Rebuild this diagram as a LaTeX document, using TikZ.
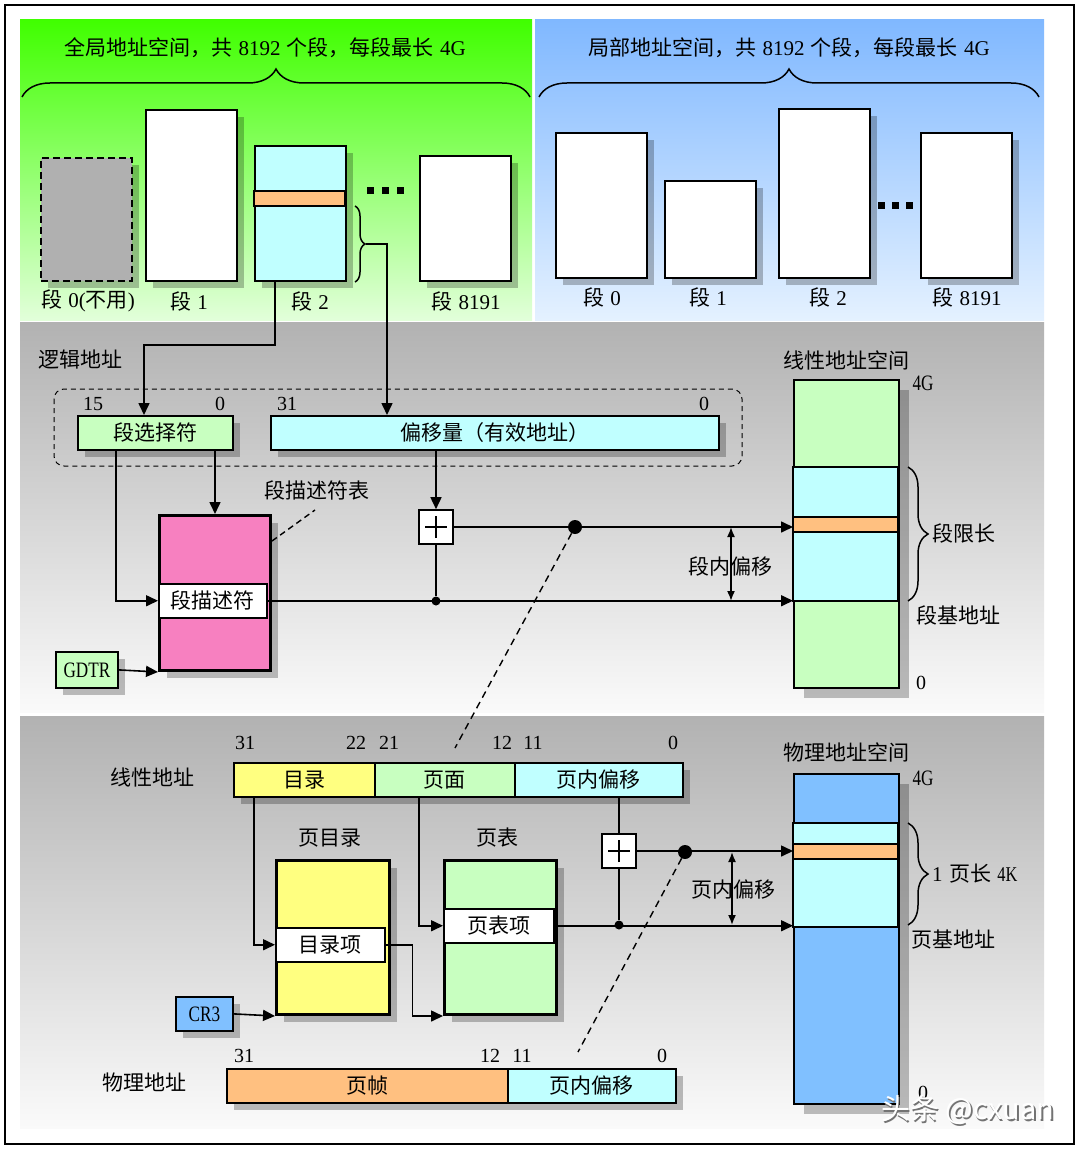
\documentclass[tikz,border=0pt]{standalone}
\usepackage{fontspec}
\setmainfont{Noto Sans CJK SC}
\newfontfamily\lat{Liberation Serif}
\newfontfamily\latc[FakeStretch=0.78]{Liberation Serif}
\usetikzlibrary{arrows.meta,shadows,decorations.pathreplacing}
\newcommand\halfsp{\hspace{.3em}}

\definecolor{selgreen}{RGB}{200,255,192}
\definecolor{offcyan}{RGB}{192,255,255}
\definecolor{bandorange}{RGB}{255,192,128}
\definecolor{tabpink}{RGB}{247,128,192}
\definecolor{diryellow}{RGB}{255,255,128}
\definecolor{physblue}{RGB}{128,192,255}
\definecolor{seggray}{RGB}{176,176,176}
\definecolor{topgreen}{RGB}{64,255,0}
\definecolor{botgreen}{RGB}{226,255,218}
\definecolor{topblue}{RGB}{128,184,255}
\definecolor{botblue}{RGB}{228,241,255}
\definecolor{panelgray}{RGB}{178,178,178}
\definecolor{panelwhite}{RGB}{250,250,250}

\begin{document}
\begin{tikzpicture}[x=1pt,y=-1pt,
  every node/.style={font=\fontsize{21}{24}\selectfont,inner sep=0pt},
  num/.style={font=\fontsize{20}{22}\selectfont\lat},
  reg/.style={font=\fontsize{22}{24}\selectfont\latc},
  segbox/.style={draw,line width=1.8pt,anchor=north west,
    drop shadow={shadow xshift=7pt,shadow yshift=-7pt,opacity=.25,fill=black}},
  colbox/.style={draw,line width=1.8pt,anchor=north west,minimum width=105pt,
    drop shadow={shadow xshift=10pt,shadow yshift=-10pt,opacity=.25,fill=black}},
  tabbox/.style={segbox,line width=3pt,minimum height=154pt},
  entrybox/.style={draw,line width=1.5pt,fill=white,anchor=north west,minimum height=34pt},
  fieldbox/.style={segbox,minimum height=34pt},
  arr/.style={line width=1.6pt,-{Triangle[length=12pt,width=11pt]}},
  dbl/.style={line width=1.6pt,{Latex[length=10pt,width=8pt]}-{Latex[length=10pt,width=8pt]}},
  link/.style={line width=1.6pt},
  guide/.style={line width=1.4pt,dash pattern=on 7pt off 5pt},
  bigdot/.style={circle,fill,minimum size=14pt},
  smalldot/.style={circle,fill,minimum size=9pt},
  curly/.style={decorate,decoration={brace,amplitude=#1},line width=1.5pt},
  plusbox/.style={draw,fill=white,line width=1.6pt,minimum size=34pt,
    path picture={\draw[line width=1.3pt]
      ([xshift=-11pt]path picture bounding box.center) -- ([xshift=11pt]path picture bounding box.center)
      ([yshift=-11pt]path picture bounding box.center) -- ([yshift=11pt]path picture bounding box.center);}}]

\useasboundingbox (0,0) rectangle (1080,1150);
\fill[white] (0,0) rectangle (1080,1150);
\draw[line width=2pt] (5,5) rectangle (1074,1144);

% panels
\shade[top color=topgreen,bottom color=botgreen] (20,20) rectangle (532,320);
\shade[top color=topblue,bottom color=botblue] (535,20) rectangle (1044,320);
\shade[top color=panelgray,bottom color=panelwhite] (20,322) rectangle (1044,712);
\shade[top color=panelgray,bottom color=panelwhite] (20,716) rectangle (1044,1128);

% global space
\node at (265,48) {全局地址空间，共\halfsp{\lat 8192}\halfsp 个段，每段最长\halfsp{\lat 4G}};
\draw[curly=28pt] (22,97) -- (530,97);
\node[segbox,fill=seggray,dash pattern=on 7pt off 4pt,minimum width=91pt,minimum height=123pt] (g0) at (40,157) {};
\node[segbox,fill=white,minimum width=91pt,minimum height=171pt] (g1) at (145,109) {};
\node[segbox,fill=offcyan,minimum width=91pt,minimum height=135pt] (g2) at (254,145) {};
\draw[line width=1.8pt,fill=bandorange] (254,191) rectangle (345,206);
\node[segbox,fill=white,minimum width=91pt,minimum height=125pt] (g8191) at (419,155) {};
\foreach \x in {370,385,400}
  \fill (\x-3.5,187.5) rectangle +(7,7);
\node (lg0) at (88,301) {段\halfsp{\lat 0(}不用{\lat )}};
\node (lg1) at (189,301) {段\halfsp{\lat 1}};
\node (lg2) at (310,301) {段\halfsp{\lat 2}};
\node (lg8191) at (466,301) {段\halfsp{\lat 8191}};
\draw[curly=10pt] (355,206) -- (355,282);
\coordinate (g2tip) at (366,244);

% local space
\node at (789,48) {局部地址空间，共\halfsp{\lat 8192}\halfsp 个段，每段最长\halfsp{\lat 4G}};
\draw[curly=28pt] (539,97) -- (1039,97);
\node[segbox,fill=white,minimum width=91pt,minimum height=145pt] (l0) at (555,132) {};
\node[segbox,fill=white,minimum width=91pt,minimum height=97pt] (l1) at (664,180) {};
\node[segbox,fill=white,minimum width=91pt,minimum height=169pt] (l2) at (778,108) {};
\node[segbox,fill=white,minimum width=91pt,minimum height=145pt] (l8191) at (920,132) {};
\foreach \x in {881,895,909}
  \fill (\x-3.5,202.5) rectangle +(7,7);
\node (ll0) at (602,297) {段\halfsp{\lat 0}};
\node (ll1) at (708,297) {段\halfsp{\lat 1}};
\node (ll2) at (828,297) {段\halfsp{\lat 2}};
\node (ll8191) at (967,297) {段\halfsp{\lat 8191}};

% logical address -> linear address
\node at (80,360) {逻辑地址};
\draw[line width=1pt,dash pattern=on 5pt off 4pt,rounded corners=10pt] (54,389) rectangle (742,466);
\node[num] at (93,404) {15};
\node[num] at (220,404) {0};
\node[num] at (287,404) {31};
\node[num] at (704,404) {0};
\node[fieldbox,fill=selgreen,minimum width=155pt] (sel) at (77,415) {段选择符};
\node[fieldbox,fill=offcyan,minimum width=448pt] (offset) at (270,415) {偏移量（有效地址）};

\node[tabbox,fill=tabpink,minimum width=111pt,minimum height=155pt] (gdt) at (158,514) {};
\node[entrybox,minimum width=108pt] (desc) at (158,583) {段描述符};
\node (gdtlabel) at (317,490) {段描述符表};
\coordinate (gdtend) at (315,510);
\draw[line width=1.4pt,dash pattern=on 6pt off 4pt] ([yshift=-27pt]gdt.north east) -- (gdtend);
\node[segbox,fill=selgreen,reg,minimum width=62pt,minimum height=36pt] (gdtr) at (55,651) {GDTR};

\node[plusbox] (plus1) at (436,527) {};
\node[colbox,fill=selgreen,minimum height=308pt] (lspace) at (793,379) {};
\draw[line width=1.8pt,fill=offcyan] (793,467) rectangle (898,601);
\draw[line width=1.8pt,fill=bandorange] (793,517) rectangle (898,532);
\node at (846,360) {线性地址空间};
\node[reg] at (923,383) {4G};
\node[num] at (921,683) {0};
\draw[curly=20pt] (908,467) -- (908,601);
\node[anchor=west] at (932,533) {段限长};
\node at (958,615) {段基地址};

\draw[arr] ([xshift=21pt]g2.south west) -- ++(0,63) -| ([xshift=67pt]sel.north west);
\draw[arr] (g2tip) -| ([xshift=117pt]offset.north west);
\draw[arr] (sel.south -| gdt.north) -- (gdt.north);
\draw[arr] ([xshift=39pt]sel.south west) |- (desc.west);
\draw[arr] (gdtr.east) -- (gdt.south west);
\draw[arr] (plus1 |- offset.south) -- (plus1.north);
\node[bigdot] (d1) at (575,527) {};
\node[smalldot] (s1) at (436,601) {};
\draw[arr] (plus1.east) -- (plus1 -| lspace.west);
\draw[arr] (desc.east) -- (desc -| lspace.west);
\draw[link] (plus1.south) -- (s1);
\coordinate (o1) at (731,527);
\coordinate (o2) at (731,601);
\draw[dbl] (o1) -- (o2);
\node at (730,566) {段内偏移};
\coordinate (e1) at (455,748);
\draw[guide] (d1) -- (e1);

% linear address -> physical address
\node at (152,777) {线性地址};
\node[num] at (245,743) {31};
\node[num] at (356,743) {22};
\node[num] at (389,743) {21};
\node[num] at (502,743) {12};
\node[num] at (533,743) {11};
\node[num] at (673,743) {0};
\node[fieldbox,fill=diryellow,minimum width=141pt] (ldir) at (233,762) {目录};
\node[fieldbox,fill=selgreen,minimum width=140pt] (lpage) at (374,762) {页面};
\node[fieldbox,fill=offcyan,minimum width=168pt] (loff) at (514,762) {页内偏移};

\node at (330,838) {页目录};
\node[tabbox,fill=diryellow,minimum width=113pt] (pdir) at (275,859) {};
\node[entrybox,minimum width=109pt] (pde) at (275,927) {目录项};
\node at (497,838) {页表};
\node[tabbox,fill=selgreen,minimum width=112pt] (ptab) at (443,859) {};
\node[entrybox,minimum width=110pt] (pte) at (443,908) {页表项};
\node[segbox,fill=physblue,reg,minimum width=57pt,minimum height=34pt] (cr3) at (175,996) {CR3};

\node[plusbox] (plus2) at (619,851) {};
\node[colbox,fill=physblue,minimum height=330pt] (pspace) at (793,773) {};
\draw[line width=1.8pt,fill=offcyan] (793,823) rectangle (898,927);
\draw[line width=1.8pt,fill=bandorange] (793,844) rectangle (898,859);
\node at (846,752) {物理地址空间};
\node[reg] at (923,778) {4G};
\node[num] at (923,1093) {0};
\draw[curly=20pt] (908,823) -- (908,925);
\node[anchor=west] at (932,874) {{\lat 1}\halfsp 页长\halfsp{\latc 4K}};
\node at (953,940) {页基地址};

\draw[arr] ([xshift=21pt]ldir.south west) |- (pde.west);
\draw[arr] ([xshift=45pt]lpage.south west) |- (pte.west);
\draw[arr] (pde.east) -- ++(27,0) |- (ptab.south west);
\draw[arr] (cr3.east) -- (pdir.south west);
\draw[link] (plus2 |- loff.south) -- (plus2.north);
\node[bigdot] (d2) at (685,852) {};
\node[smalldot] (s2) at (619,925) {};
\draw[arr] (plus2.east) -- (plus2 -| pspace.west);
\draw[arr] (pte.east) -- (pte -| pspace.west);
\draw[link] (plus2.south) -- (s2);
\coordinate (o3) at (732,852);
\coordinate (o4) at (732,925);
\draw[dbl] (o3) -- (o4);
\node at (733,890) {页内偏移};
\coordinate (e2) at (578,1052);
\draw[guide] (d2) -- (e2);

\node at (144,1083) {物理地址};
\node[num] at (244,1056) {31};
\node[num] at (490,1056) {12};
\node[num] at (522,1056) {11};
\node[num] at (662,1056) {0};
\node[fieldbox,fill=bandorange,minimum width=281pt] (pframe) at (226,1068) {页帧};
\node[fieldbox,fill=offcyan,minimum width=168pt] (poff) at (507,1068) {页内偏移};

% watermark
\node[font=\fontsize{29}{30}\selectfont,text=black!55] (markshadow) at (969.5,1111.5) {头条 @cxuan};
\node[font=\fontsize{29}{30}\selectfont,text=white] (mark) at (968,1110) {头条 @cxuan};
\end{tikzpicture}
\end{document}
